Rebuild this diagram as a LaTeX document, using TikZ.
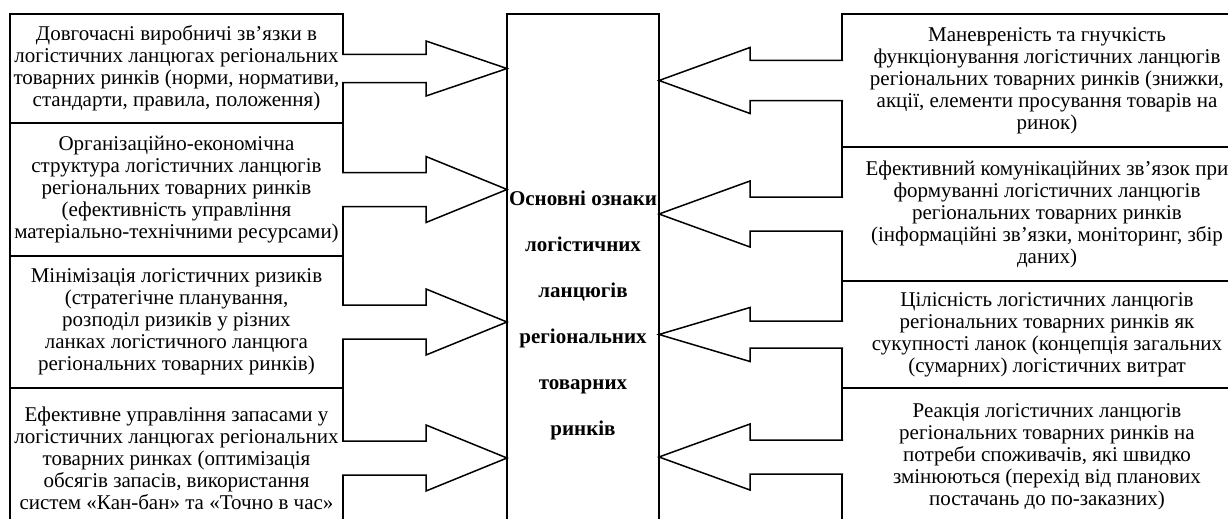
\documentclass[tikz,border=0pt]{standalone}
\usepackage{fontspec}
\setmainfont{Liberation Serif}
\usetikzlibrary{positioning}

\begin{document}
\begin{tikzpicture} [x=1pt, y=-1pt, line width=1.5pt,
  box/.style={draw, align=center, inner sep=0pt, outer sep=0pt, minimum width=333pt, font=\fontsize{21}{22}\selectfont},
  rbox/.style={box, minimum width=410pt},
  fat/.style={draw, fill=white, line join=miter}]

\path [use as bounding box, clip] (0,0) rectangle (1228,519);

\node (C) [draw, anchor=north, minimum width=152pt, minimum height=603pt, inner sep=0pt, outer sep=0pt, align=center, font=\fontsize{21}{46}\selectfont\bfseries] at (583,14)
  {Основні ознаки\\ логістичних\\ ланцюгів\\ регіональних\\ товарних\\ ринків};

\node (L1) [box, minimum height=109pt, anchor=north west] at (10,14)
  {Довгочасні виробничі зв’язки в\\ логістичних ланцюгах регіональних\\ товарних ринків (норми, нормативи,\\ стандарти, правила, положення)};
\node (L2) [box, minimum height=133pt, below=0pt of L1]
  {Організаційно-економічна\\ структура логістичних ланцюгів\\ регіональних товарних ринків\\ (ефективність управління\\ матеріально-технічними ресурсами)};
\node (L3) [box, minimum height=132pt, below=0pt of L2]
  {Мінімізація логістичних ризиків\\ (стратегічне планування,\\ розподіл ризиків у різних\\ ланках логістичного ланцюга\\ регіональних товарних ринків)};
\node (L4) [box, minimum height=140pt, below=0pt of L3]
  {Ефективне управління запасами у\\ логістичних ланцюгах регіональних\\ товарних ринках (оптимізація\\ обсягів запасів, використання\\ систем «Кан-бан» та «Точно в час»};

\node (R1) [rbox, minimum height=133pt, anchor=north west] at (842,14)
  {Маневреність та гнучкість\\ функціонування логістичних ланцюгів\\ регіональних товарних ринків (знижки,\\ акції, елементи просування товарів на\\ ринок)};
\node (R2) [rbox, minimum height=134pt, below=0pt of R1]
  {Ефективний комунікаційних зв'язок при\\ формуванні логістичних ланцюгів\\ регіональних товарних ринків\\ (інформаційні зв’язки, моніторинг, збір\\ даних)};
\node (R3) [rbox, minimum height=107pt, below=0pt of R2]
  {Цілісність логістичних ланцюгів\\ регіональних товарних ринків як\\ сукупності ланок (концепція загальних\\ (сумарних) логістичних витрат};
\node (R4) [rbox, minimum height=138pt, below=0pt of R3]
  {Реакція логістичних ланцюгів\\ регіональних товарних ринків на\\ потреби споживачів, які швидко\\ змінюються (перехід від планових\\ постачань до по-заказних)};

% left arrows
\path [fat] ([shift={(-1,-14)}] L1.east) -- ++(84,0) -- ++(0,-13.5) -- (C.west |- L1.east) -- ++(-81,27.5) -- ++(0,-13.5) -- ++(-84,0);
\path [fat] ([shift={(-1,-17)}] L2.east) -- ++(84,0) -- ++(0,-16) -- (C.west |- L2.east) -- ++(-81,33) -- ++(0,-16) -- ++(-84,0);
\path [fat] ([shift={(-1,-17)}] L3.east) -- ++(84,0) -- ++(0,-16) -- (C.west |- L3.east) -- ++(-81,33) -- ++(0,-16) -- ++(-84,0);
\path [fat] ([shift={(-1,-17)}] L4.east) -- ++(84,0) -- ++(0,-16) -- (C.west |- L4.east) -- ++(-81,33) -- ++(0,-16) -- ++(-84,0);

% right arrows
\path [fat] ([shift={(1,-20)}] R1.west) -- ++(-93,0) -- ++(0,-13) -- (C.east |- R1.west) -- ++(91,33) -- ++(0,-13) -- ++(93,0);
\path [fat] ([shift={(1,-17)}] R2.west) -- ++(-93,0) -- ++(0,-16) -- (C.east |- R2.west) -- ++(91,33) -- ++(0,-16) -- ++(93,0);
\path [fat] ([shift={(1,-13.5)}] R3.west) -- ++(-93,0) -- ++(0,-13.5) -- (C.east |- R3.west) -- ++(91,27) -- ++(0,-13.5) -- ++(93,0);
\path [fat] ([shift={(1,-17)}] R4.west) -- ++(-93,0) -- ++(0,-16) -- (C.east |- R4.west) -- ++(91,33) -- ++(0,-16) -- ++(93,0);
\end{tikzpicture}
\end{document}
